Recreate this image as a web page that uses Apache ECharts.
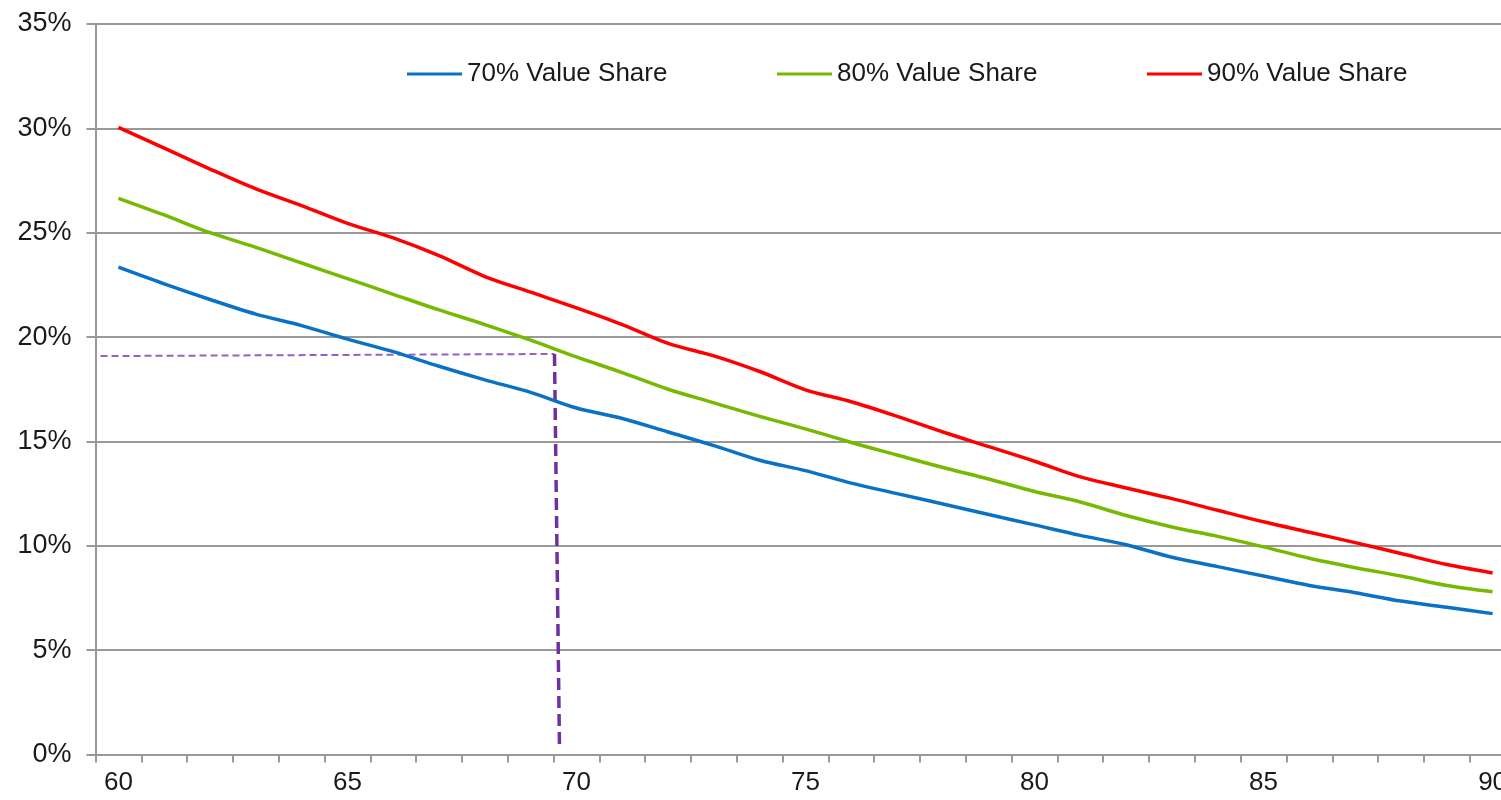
<!DOCTYPE html>
<html>
<head>
<meta charset="utf-8">
<title>Value Share</title>
<script src="https://cdn.jsdelivr.net/npm/echarts@6/dist/echarts.min.js"></script>
<style>
  html, body { margin: 0; padding: 0; background: #ffffff; }
  #chart { width: 1501px; height: 800px; }
</style>
</head>
<body>
<div id="chart"></div>
<script>
// Categories along the x axis
const categories = [];
for (let v = 60; v <= 90; v++) categories.push(String(v));

// Series values (percent)
const share70 = [23.35, 22.55, 21.8, 21.1, 20.55, 19.9, 19.3, 18.6, 17.95, 17.35,
                 16.6, 16.1, 15.45, 14.8, 14.1, 13.6, 13.0, 12.5, 12.0, 11.5,
                 11.0, 10.5, 10.05, 9.45, 9.0, 8.55, 8.1, 7.75, 7.35, 7.05, 6.75];
const share80 = [26.65, 25.85, 25.0, 24.3, 23.55, 22.8, 22.05, 21.3, 20.6, 19.85,
                 19.05, 18.3, 17.5, 16.85, 16.2, 15.6, 14.95, 14.35, 13.75, 13.2,
                 12.6, 12.1, 11.45, 10.9, 10.45, 9.95, 9.4, 8.95, 8.55, 8.1, 7.8];
const share90 = [30.05, 29.05, 28.05, 27.1, 26.3, 25.45, 24.75, 23.9, 22.9, 22.15,
                 21.4, 20.6, 19.7, 19.1, 18.35, 17.47, 16.9, 16.2, 15.45, 14.75,
                 14.05, 13.3, 12.77, 12.26, 11.7, 11.15, 10.65, 10.15, 9.63, 9.1, 8.7];

// Series names shown in the legend
const seriesNames = ['70% Value Share', '80% Value Share', '90% Value Share'];

// Reading guide lines: [x, percent]
const guideH = [[59.61, 19.09], [69.52, 19.19]];
const guideV = [[69.52, 19.19], [69.63, 0.22]];

const font = 'Liberation Sans, Arial, sans-serif';
const textColor = '#1a1a1a';
const gridGray = '#999999';

const chart = echarts.init(document.getElementById('chart'), null, { renderer: 'canvas' });

function legendAt(name, left) {
  return {
    data: [name],
    left: left,
    top: 61,
    padding: 0,
    icon: 'rect',
    itemWidth: 55,
    itemHeight: 3,
    textStyle: { fontFamily: font, fontSize: 26, color: textColor },
    selectedMode: false
  };
}

chart.setOption({
  animation: false,
  backgroundColor: '#ffffff',
  legend: [
    legendAt(seriesNames[0], 407),
    legendAt(seriesNames[1], 777),
    legendAt(seriesNames[2], 1147)
  ],
  // the plot runs a little past the right edge of the canvas
  grid: {
    left: 95.5, top: 24, width: 1420, height: 730.5,
    containLabel: false, outerBoundsMode: 'none'
  },
  xAxis: [
    {
      type: 'category',
      data: categories,
      boundaryGap: true,
      axisLine: { show: true, lineStyle: { color: gridGray, width: 2 } },
      axisTick: { show: true, interval: 0, length: 8, lineStyle: { color: gridGray, width: 2 } },
      axisLabel: { interval: 4, margin: 15, fontFamily: font, fontSize: 26, color: textColor },
      splitLine: { show: false }
    },
    {
      type: 'value',
      min: 59.5,
      max: 90.5,
      show: false
    }
  ],
  yAxis: {
    type: 'value',
    min: 0,
    max: 35,
    interval: 5,
    axisLine: { show: true, lineStyle: { color: gridGray, width: 2 } },
    axisTick: { show: true, length: 9, lineStyle: { color: gridGray, width: 2 } },
    axisLabel: { margin: 24, formatter: '{value}%', fontFamily: font, fontSize: 27, color: textColor },
    splitLine: { show: true, lineStyle: { color: gridGray, width: 2 } }
  },
  series: [
    {
      name: seriesNames[0], type: 'line', data: share70, symbol: 'none', smooth: 0.3,
      color: '#0a72c6', lineStyle: { width: 3.5, color: '#0a72c6' }, z: 3
    },
    {
      name: seriesNames[1], type: 'line', data: share80, symbol: 'none', smooth: 0.3,
      color: '#76b900', lineStyle: { width: 3.5, color: '#76b900' }, z: 3
    },
    {
      name: seriesNames[2], type: 'line', data: share90, symbol: 'none', smooth: 0.3,
      color: '#ff0000', lineStyle: { width: 3.5, color: '#ff0000' }, z: 3
    },
    {
      name: 'guideH', type: 'line', xAxisIndex: 1, data: guideH, symbol: 'none',
      lineStyle: { width: 2, color: '#9460c8', type: [7, 4] }, z: 2, silent: true
    },
    {
      name: 'guideV', type: 'line', xAxisIndex: 1, data: guideV, symbol: 'none',
      lineStyle: { width: 3.5, color: '#7030a0', type: [12, 6] }, z: 2, silent: true
    }
  ]
});
</script>
</body>
</html>
